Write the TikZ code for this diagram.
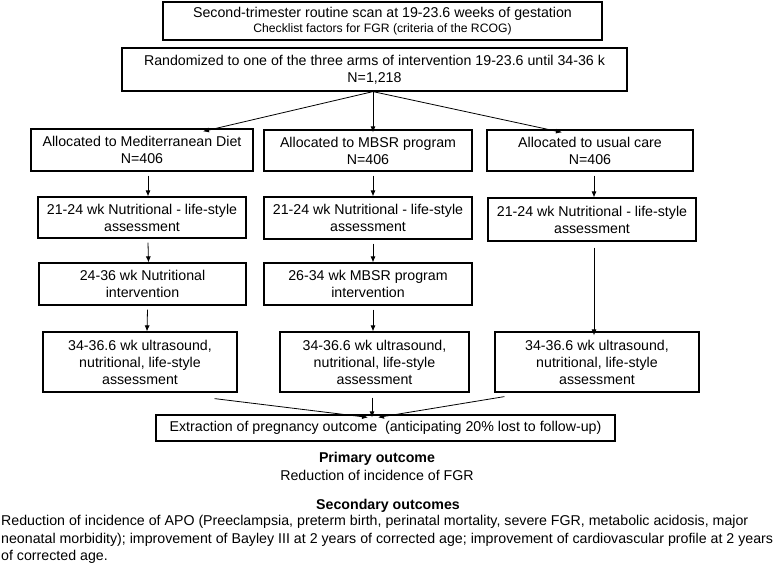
\documentclass[tikz,border=0pt]{standalone}
\usepackage{fontspec}
\setmainfont{Liberation Sans}
\usetikzlibrary{arrows.meta}

\begin{document}
\begin{tikzpicture}[x=1pt, y=-1pt,
  box/.style = {draw, line width=1.2pt, align=center, inner sep=0pt, font=\fontsize{14.2}{17}\selectfont},
  txt/.style = {inner sep=0pt, font=\fontsize{14.2}{17.5}\selectfont},
  arr/.style = {-{Latex[length=6pt,width=5pt]}, line width=0.8pt}]
\useasboundingbox (0,0) rectangle (778,565);

\node[box, minimum width=439pt, minimum height=38pt] (scan) at (382.5,21) {Second-trimester routine scan at 19-23.6 weeks of gestation\\[-2pt]{\fontsize{12.2}{13.5}\selectfont Checklist factors for FGR (criteria of the RCOG)}};
\node[box, minimum width=505pt, minimum height=43pt] (rand) at (374.5,69.5) {Randomized to one of the three arms of intervention 19-23.6 until 34-36 k\\N=1,218};

% Mediterranean diet arm
\node[box, minimum width=222pt, minimum height=42pt] (m1) at (142,150) {Allocated to Mediterranean Diet\\N=406};
\node[box, minimum width=208pt, minimum height=41pt] (m2) at (142,217.5) {21-24 wk Nutritional - life-style\\assessment};
\node[box, minimum width=207pt, minimum height=42pt] (m3) at (142.5,284) {24-36 wk Nutritional\\intervention};
\node[box, minimum width=194pt, minimum height=60pt] (m4) at (140,362) {34-36.6 wk ultrasound,\\nutritional, life-style\\assessment};

% MBSR arm
\node[box, minimum width=208pt, minimum height=41pt] (b1) at (368,150.5) {Allocated to MBSR program\\N=406};
\node[box, minimum width=208pt, minimum height=42pt] (b2) at (368,218) {21-24 wk Nutritional - life-style\\assessment};
\node[box, minimum width=208pt, minimum height=42pt] (b3) at (368,284) {26-34 wk MBSR program\\intervention};
\node[box, minimum width=189pt, minimum height=60pt] (b4) at (374.5,362) {34-36.6 wk ultrasound,\\nutritional, life-style\\assessment};

% usual care arm
\node[box, minimum width=206pt, minimum height=41pt] (u1) at (590,150.5) {Allocated to usual care\\N=406};
\node[box, minimum width=208pt, minimum height=43pt] (u2) at (592,219.5) {21-24 wk Nutritional - life-style\\assessment};
\node[box, minimum width=204pt, minimum height=60pt] (u4) at (597,362) {34-36.6 wk ultrasound,\\nutritional, life-style\\assessment};

\node[box, minimum width=459pt, minimum height=26pt] (out) at (385.5,428) {Extraction of pregnancy outcome\ \ (anticipating 20\% lost to follow-up)};

\coordinate (split) at ([xshift=-1.5pt]rand.south);
\path[arr] (split) edge ([xshift=61pt,yshift=-3pt]m1.north);
\path[arr] (split) edge ([xshift=5pt,yshift=-3pt]b1.north);
\path[arr] (split) edge ([xshift=-28pt,yshift=-3pt]u1.north);

\path[arr] ([xshift=6pt,yshift=-4pt]m1.south) edge ([xshift=6pt]m2.north);
\path[arr] ([xshift=6pt,yshift=-4pt]m2.south) edge ([xshift=6pt]m3.north);
\path[arr] ([xshift=5pt,yshift=-4pt]m3.south) edge ([xshift=7pt]m4.north);

\path[arr] ([xshift=5pt,yshift=-4pt]b1.south) edge ([xshift=5pt]b2.north);
\path[arr] ([xshift=5pt,yshift=-4pt]b2.south) edge ([xshift=5pt]b3.north);
\path[arr] ([xshift=5pt,yshift=-4pt]b3.south) edge ([xshift=-1.5pt]b4.north);

\path[arr] ([xshift=4pt,yshift=-4pt]u1.south) edge ([xshift=2pt]u2.north);
\path[arr] ([xshift=2pt,yshift=-6pt]u2.south) edge ([xshift=-3pt,yshift=-4pt]u4.north);

\path[arr] ([xshift=-23pt,yshift=-6pt]m4.south east) edge ([xshift=-17.5pt,yshift=-3pt]out.north);
\path[arr] ([xshift=-2.5pt,yshift=-5pt]b4.south) edge ([xshift=-13.5pt,yshift=-3pt]out.north);
\path[arr] ([xshift=10pt,yshift=-4pt]u4.south west) edge ([xshift=-7.5pt,yshift=-3pt]out.north);

% outcomes
\node[txt, font=\fontsize{14.2}{17.5}\selectfont\bfseries] (prim) at (377,459) {Primary outcome};
\node[txt] (primtxt) at (377,475) {Reduction of incidence of FGR};
\node[txt, font=\fontsize{14.2}{17.5}\selectfont\bfseries] (sec) at (388,506) {Secondary outcomes};
\node[txt, anchor=north west, align=left] (sectxt) at (1,515) {Reduction of incidence of APO (Preeclampsia, preterm birth, perinatal mortality, severe FGR, metabolic acidosis, major\\neonatal morbidity); improvement of Bayley III at 2 years of corrected age; improvement of cardiovascular profile at 2 years\\of corrected age.};
\end{tikzpicture}
\end{document}
